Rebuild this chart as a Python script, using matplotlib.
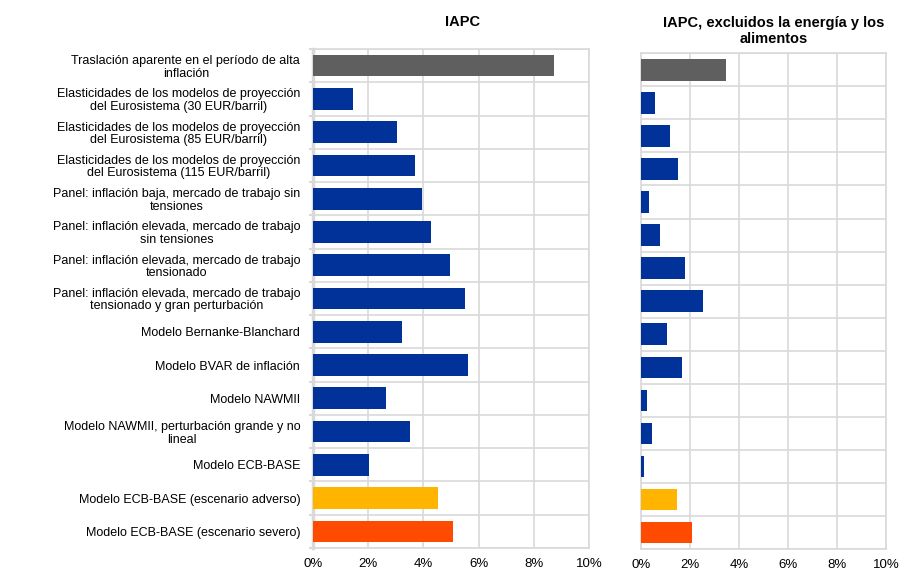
import matplotlib
matplotlib.use("Agg")
import matplotlib.pyplot as plt
import numpy as np

plt.rcParams['font.family'] = ['Liberation Sans', 'DejaVu Sans']

categories = [
    "Traslación aparente en el período de alta\ninflación",
    "Elasticidades de los modelos de proyección\ndel Eurosistema (30 EUR/barril)",
    "Elasticidades de los modelos de proyección\ndel Eurosistema (85 EUR/barril)",
    "Elasticidades de los modelos de proyección\ndel Eurosistema (115 EUR/barril)",
    "Panel: inflación baja, mercado de trabajo sin\ntensiones",
    "Panel: inflación elevada, mercado de trabajo\nsin tensiones",
    "Panel: inflación elevada, mercado de trabajo\ntensionado",
    "Panel: inflación elevada, mercado de trabajo\ntensionado y gran perturbación",
    "Modelo Bernanke-Blanchard",
    "Modelo BVAR de inflación",
    "Modelo NAWMII",
    "Modelo NAWMII, perturbación grande y no\nlineal",
    "Modelo ECB-BASE",
    "Modelo ECB-BASE (escenario adverso)",
    "Modelo ECB-BASE (escenario severo)",
]
iapc = [8.72, 1.46, 3.05, 3.70, 3.95, 4.28, 4.96, 5.51, 3.23, 5.61, 2.65, 3.52, 2.04, 4.53, 5.07]
iapc_sub = [3.47, 0.58, 1.19, 1.52, 0.34, 0.79, 1.80, 2.54, 1.07, 1.68, 0.26, 0.46, 0.14, 1.48, 2.09]
xticks = [0, 2, 4, 6, 8, 10]
xticklabels = ["0%", "2%", "4%", "6%", "8%", "10%"]
titles = ["IAPC", "IAPC, excluidos la energía y los\nalimentos"]

GRAY = "#5f5f5f"
BLUE = "#003299"
YELLOW = "#ffb400"
RED = "#ff4b00"
colors = [GRAY] + [BLUE] * 12 + [YELLOW, RED]
GRID = "#d9d9d9"

fig = plt.figure(figsize=(9.14, 5.74), dpi=100)
ax1 = fig.add_axes([312.7 / 914, 1 - 548 / 574, 276.6 / 914, 499 / 574])
ax2 = fig.add_axes([640.7 / 914, 1 - 549 / 574, 245.6 / 914, 495.7 / 574])

n = len(categories)
y = np.arange(n)
for ax, vals, thick in [(ax1, iapc, True), (ax2, iapc_sub, False)]:
    ax.barh(y, vals, height=0.65, color=colors, zorder=3)
    ax.set_xlim(0, 10)
    ax.set_ylim(n - 0.5, -0.5)
    ax.set_xticks(xticks)
    ax.set_xticklabels(xticklabels, fontsize=9.5)
    ax.set_yticks(np.arange(-0.5, n, 1.0))
    ax.set_yticklabels([])
    ax.set_yticks(y, minor=True)
    if ax is ax1:
        labs = ax.set_yticklabels(categories, minor=True, fontsize=9, linespacing=1.05)
        for t in labs:
            t.set_multialignment('center')
    ax.tick_params(axis='y', which='minor', length=0, pad=9)
    ax.tick_params(axis='y', which='major', length=3 if thick else 0, width=1.5, color=GRID, direction='out')
    ax.tick_params(axis='x', length=0, pad=7)
    ax.grid(True, which='major', color=GRID, linewidth=1.2, zorder=0)
    for s in ax.spines.values():
        s.set_color(GRID)
        s.set_linewidth(1.2)
    if thick:
        ax.spines['left'].set_linewidth(2.5)

fig.text(463 / 914, 1 - 22 / 574, titles[0], ha='center', va='center',
         fontsize=10.5, fontweight='bold')
fig.text(773.5 / 914, 1 - 16 / 574, titles[1], ha='center', va='top',
         fontsize=10.5, fontweight='bold', linespacing=1.15, multialignment='center')

fig.savefig("out.png", dpi=100)
